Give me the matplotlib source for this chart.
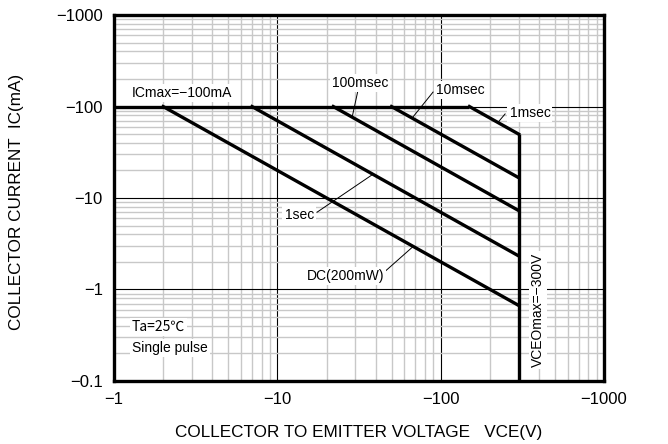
import matplotlib
matplotlib.use('Agg')
import matplotlib.pyplot as plt
import numpy as np

# safe operating area data (magnitudes, V and mA)
ic_max = 100
vceo_max = 300
curve_labels = ['DC(200mW)', '1sec', '100msec', '10msec', '1msec']
v_start = [2, 7, 22, 50, 150]          # V where the curve leaves ICmax
i_end = [0.67, 2.33, 7.3, 16.7, 50]    # mA at VCEOmax

x_ticks = [1, 10, 100, 1000]
x_ticklabels = ['\u22121', '\u221210', '\u2212100', '\u22121000']
y_ticks = [0.1, 1, 10, 100, 1000]
y_ticklabels = ['\u22120.1', '\u22121', '\u221210', '\u2212100', '\u22121000']

plt.rcParams['font.family'] = ['Liberation Sans', 'DejaVu Sans']

fig = plt.figure(figsize=(6.68, 4.44), dpi=100)
ax = fig.add_axes([0.1707, 0.142, 0.7335, 0.824])
ax.set_xscale('log')
ax.set_yscale('log')
ax.set_xlim(1, 1000)
ax.set_ylim(0.1, 1000)

ax.grid(which='minor', color='#c8c8c8', lw=1.0)
ax.grid(which='major', color='black', lw=0.8)
ax.set_axisbelow(True)

lw = 2.4
# envelope: ICmax, 1msec line, VCEOmax
ax.plot([1, v_start[-1]], [ic_max, ic_max], color='black', lw=lw, solid_capstyle='butt')
ax.plot([vceo_max, vceo_max], [i_end[-1], 0.1], color='black', lw=lw, solid_capstyle='butt')
for vs, ie in zip(v_start, i_end):
    ax.plot([vs, vceo_max], [ic_max, ie], color='black', lw=lw, solid_capstyle='projecting')

box = dict(facecolor='white', edgecolor='none', pad=1.5)
fs = 10
ax.text(1.29, 141, 'ICmax=\u2212100mA', fontsize=fs, va='center', ha='left', bbox=box)

# labels with leader lines: (text, text pos, leader start, leader end)
notes = [
    ('100msec', (32, 181), (31, 144), (28.7, 76.6)),
    ('10msec', (131.5, 151), (89.8, 144), (66.8, 74.8)),
    ('1msec', (352, 85), (248, 83), (224, 67)),
    ('1sec', (13.6, 6.5), (17.5, 7.0), (38.5, 18.2)),
    ('DC(200mW)', (26, 1.41), (44.4, 1.51), (67.8, 2.95)),
]
for txt, tp, p0, p1 in notes:
    ax.plot([p0[0], p1[0]], [p0[1], p1[1]], color='black', lw=0.7)
    ax.text(tp[0], tp[1], txt, fontsize=fs, va='center', ha='center', bbox=box)

ax.text(1.29, 0.389, 'Ta=25\u2103', fontsize=fs, va='center', ha='left',
        family=['Noto Sans CJK JP', 'DejaVu Sans'], bbox=box)
ax.text(1.29, 0.23, 'Single pulse', fontsize=fs, va='center', ha='left', bbox=box)
ax.text(395, 0.6, 'VCEOmax=\u2212300V', fontsize=fs, va='center', ha='center',
        rotation=90, bbox=box)

ax.set_xticks(x_ticks)
ax.set_xticklabels(x_ticklabels, fontsize=12)
ax.set_yticks(y_ticks)
ax.set_yticklabels(y_ticklabels, fontsize=12)
ax.tick_params(which='both', length=0, pad=8)
ax.xaxis.set_minor_formatter(matplotlib.ticker.NullFormatter())
ax.yaxis.set_minor_formatter(matplotlib.ticker.NullFormatter())

ax.set_xlabel('COLLECTOR TO EMITTER VOLTAGE   VCE(V)', fontsize=12.3)
ax.set_ylabel('COLLECTOR CURRENT  IC(mA)', fontsize=12.3)
ax.xaxis.set_label_coords(0.5, -0.12)
ax.yaxis.set_label_coords(-0.184, 0.49)

for s in ax.spines.values():
    s.set_linewidth(2.4)

fig.savefig('out.png', dpi=100)
